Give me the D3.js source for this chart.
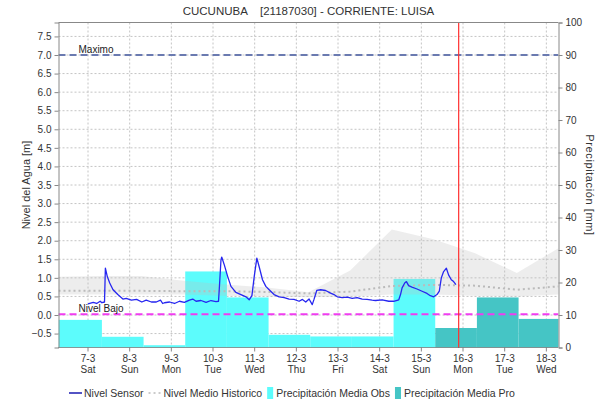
<!DOCTYPE html>
<html>
<head>
<meta charset="utf-8">
<script src="https://cdn.jsdelivr.net/npm/d3@7"></script>
<style>
  body { margin: 0; background: #fff; }
  text { font-family: "Liberation Sans", Arial, sans-serif; fill: #333; }
</style>
</head>
<body>
<div id="chart"></div>
<script>
// Chart data.
var titleText = "CUCUNUBA    [21187030] - CORRIENTE: LUISA";

var sensorTimes = [
  "2020-03-07 00:00", "2020-03-07 03:00", "2020-03-07 05:00", "2020-03-07 07:00", "2020-03-07 08:00",
  "2020-03-07 09:30", "2020-03-07 10:00", "2020-03-07 11:05", "2020-03-07 12:30", "2020-03-07 14:25",
  "2020-03-07 17:10", "2020-03-07 20:05", "2020-03-07 22:00", "2020-03-08 01:00", "2020-03-08 04:00",
  "2020-03-08 07:00", "2020-03-08 09:30", "2020-03-08 12:30", "2020-03-08 15:20", "2020-03-08 17:45",
  "2020-03-08 19:00", "2020-03-08 20:00", "2020-03-08 23:00", "2020-03-09 01:50", "2020-03-09 04:40",
  "2020-03-09 07:30", "2020-03-09 10:25", "2020-03-09 12:20", "2020-03-09 14:15", "2020-03-09 17:05",
  "2020-03-09 20:00", "2020-03-09 22:50", "2020-03-10 01:45", "2020-03-10 03:10", "2020-03-10 03:35",
  "2020-03-10 04:35", "2020-03-10 05:00", "2020-03-10 06:30", "2020-03-10 08:25", "2020-03-10 10:20",
  "2020-03-10 13:10", "2020-03-10 16:05", "2020-03-10 19:00", "2020-03-10 20:50", "2020-03-10 22:25",
  "2020-03-10 23:45", "2020-03-11 01:15", "2020-03-11 02:35", "2020-03-11 04:30", "2020-03-11 06:25",
  "2020-03-11 08:20", "2020-03-11 11:10", "2020-03-11 14:05", "2020-03-11 17:00", "2020-03-11 19:50",
  "2020-03-11 22:40", "2020-03-12 01:35", "2020-03-12 03:30", "2020-03-12 05:25", "2020-03-12 07:20",
  "2020-03-12 09:10", "2020-03-12 10:10", "2020-03-12 11:45", "2020-03-12 14:00", "2020-03-12 16:50",
  "2020-03-12 19:45", "2020-03-12 21:40", "2020-03-12 23:35", "2020-03-13 02:25", "2020-03-13 05:20",
  "2020-03-13 08:10", "2020-03-13 11:00", "2020-03-13 13:55", "2020-03-13 16:45", "2020-03-13 19:40",
  "2020-03-13 21:35", "2020-03-14 01:25", "2020-03-14 05:15", "2020-03-14 08:05", "2020-03-14 11:00",
  "2020-03-14 12:00", "2020-03-14 12:55", "2020-03-14 14:25", "2020-03-14 15:25", "2020-03-14 16:40",
  "2020-03-14 18:35", "2020-03-14 21:30", "2020-03-15 00:25", "2020-03-15 03:15", "2020-03-15 05:10",
  "2020-03-15 07:05", "2020-03-15 09:00", "2020-03-15 10:20", "2020-03-15 11:30", "2020-03-15 12:50",
  "2020-03-15 14:25", "2020-03-15 15:40", "2020-03-15 17:15", "2020-03-15 18:35", "2020-03-15 19:55"
];
var sensorLevel = [
  0.30, 0.34, 0.31, 0.37, 0.33,
  0.35, 1.26, 1.04, 0.86, 0.68,
  0.55, 0.43, 0.45, 0.40, 0.42,
  0.35, 0.40, 0.35, 0.35, 0.40,
  0.31, 0.33, 0.35, 0.31, 0.37,
  0.34, 0.40, 0.43, 0.37, 0.39,
  0.34, 0.39, 0.36, 0.37, 0.68,
  1.48, 1.56, 1.35, 1.04, 0.77,
  0.61, 0.55, 0.49, 0.41, 0.52,
  1.04, 1.53, 1.30, 0.95, 0.77,
  0.68, 0.55, 0.49, 0.47, 0.43,
  0.42, 0.37, 0.42, 0.35, 0.43,
  0.28, 0.42, 0.66, 0.68, 0.66,
  0.59, 0.55, 0.49, 0.47, 0.48,
  0.45, 0.47, 0.43, 0.42, 0.40,
  0.39, 0.41, 0.37, 0.37, 0.41,
  0.55, 0.73, 0.86, 0.90, 0.79,
  0.75, 0.70, 0.64, 0.58, 0.52,
  0.49, 0.55, 0.64, 1.00, 1.17,
  1.26, 1.08, 0.95, 0.90, 0.82
];

// Historical level: daily mean and its band
var histTimes = [
  "2020-03-06 07:00", "2020-03-07 07:00", "2020-03-08 07:00", "2020-03-09 07:00", "2020-03-10 07:00",
  "2020-03-11 07:00", "2020-03-12 07:00", "2020-03-13 07:00", "2020-03-14 07:00", "2020-03-15 07:00",
  "2020-03-16 07:00", "2020-03-17 07:00", "2020-03-18 07:00"
];
var histUpper = [1.03, 1.05, 1.05, 0.92, 0.82, 0.74, 0.61, 1.20, 2.30, 2.04, 1.66, 1.13, 1.80];
var histLower = [0.55, 0.55, 0.55, 0.55, 0.52, 0.50, 0.48, 0.50, 0.55, 0.55, 0.52, 0.50, 0.55];
var histMean  = [0.65, 0.65, 0.65, 0.64, 0.64, 0.62, 0.58, 0.63, 0.78, 0.81, 0.79, 0.68, 0.77];

// Daily precipitation (mm), each bar covers one day starting at 08:00
var obsStart = [
  "2020-03-06 08:00", "2020-03-07 08:00", "2020-03-08 08:00", "2020-03-09 08:00", "2020-03-10 08:00",
  "2020-03-11 08:00", "2020-03-12 08:00", "2020-03-13 08:00", "2020-03-14 08:00"
];
var obsMm = [8.5, 3.3, 0.7, 23.4, 15.4, 3.9, 3.4, 3.4, 21.1];
var proStart = ["2020-03-15 08:00", "2020-03-16 08:00", "2020-03-17 08:00"];
var proMm = [6.0, 15.4, 8.8];

var nivelMaximo = 7.0;
var nivelBajo = 0.02;
var nowTime = "2020-03-15 21:30";
var timeRange = ["2020-03-06 07:00", "2020-03-18 07:00"];

var leftTicks = d3.range(-0.5, 7.51, 0.5);
var rightTicks = d3.range(0, 101, 10);

// Dimensions
var width = 595, height = 401;
var m = {top: 22.5, left: 58.5, right: 36.5, bottom: 53.5};
var w = width - m.left - m.right;
var h = height - m.top - m.bottom;

var parse = d3.utcParse("%Y-%m-%d %H:%M");
var fmtDay = d3.utcFormat("%-d-%-m");
var fmtWeek = d3.utcFormat("%a");

var x = d3.scaleUtc().domain(timeRange.map(parse)).range([0, w]);
var yL = d3.scaleLinear().domain([-0.875, 7.875]).range([h, 0]);
var yR = d3.scaleLinear().domain([0, 100]).range([h, 0]);

var svg = d3.select("#chart").append("svg")
    .attr("width", width)
    .attr("height", height);

svg.append("defs").append("clipPath").attr("id", "clip")
  .append("rect").attr("width", w).attr("height", h);

var g = svg.append("g").attr("transform", "translate(" + m.left + "," + m.top + ")");

// Title
svg.append("text")
    .attr("x", m.left + w / 2)
    .attr("y", 15)
    .attr("text-anchor", "middle")
    .attr("xml:space", "preserve")
    .style("white-space", "pre")
    .style("font-size", "11.5px")
    .text(titleText);

// Grid
var dayTicks = d3.utcDay.range(d3.utcDay.ceil(x.domain()[0]), x.domain()[1]);
var grid = g.append("g").attr("stroke", "#c4c4c4").attr("stroke-dasharray", "2,2");
grid.selectAll(".gx").data(dayTicks).enter().append("line")
    .attr("x1", function(d) { return x(d); }).attr("x2", function(d) { return x(d); })
    .attr("y1", 0).attr("y2", h);
grid.selectAll(".gy").data(leftTicks).enter().append("line")
    .attr("x1", 0).attr("x2", w)
    .attr("y1", function(d) { return yL(d); }).attr("y2", function(d) { return yL(d); });

var plot = g.append("g").attr("clip-path", "url(#clip)");

// Precipitation bars
function bars(starts, vals, color) {
  var data = starts.map(function(s, i) {
    var t0 = parse(s);
    return {t0: t0, t1: d3.utcDay.offset(t0, 1), v: vals[i]};
  });
  plot.append("g").selectAll("rect").data(data).enter().append("rect")
      .attr("x", function(d, i) { return i === 0 && starts === obsStart ? 0 : x(d.t0); })
      .attr("width", function(d, i) { return x(d.t1) - (i === 0 && starts === obsStart ? 0 : x(d.t0)); })
      .attr("y", function(d) { return yR(d.v); })
      .attr("height", function(d) { return h - yR(d.v); })
      .attr("fill", color);
}
bars(obsStart, obsMm, "#5cfcfc");
bars(proStart, proMm, "#45c5c5");

// Historical band and mean
var hist = histTimes.map(function(t, i) {
  return {t: parse(t), lo: histLower[i], hi: histUpper[i], mean: histMean[i]};
});
plot.append("path").datum(hist)
    .attr("fill", "#bdbdbd")
    .attr("fill-opacity", 0.28)
    .attr("d", d3.area()
        .x(function(d) { return x(d.t); })
        .y0(function(d) { return yL(d.lo); })
        .y1(function(d) { return yL(d.hi); }));
plot.append("path").datum(hist)
    .attr("fill", "none")
    .attr("stroke", "#bbbbbb")
    .attr("stroke-width", 2)
    .attr("stroke-dasharray", "2,3")
    .attr("d", d3.line()
        .x(function(d) { return x(d.t); })
        .y(function(d) { return yL(d.mean); }));

// Sensor line
var sensor = sensorTimes.map(function(t, i) { return {t: parse(t), v: sensorLevel[i]}; });
plot.append("path").datum(sensor)
    .attr("fill", "none")
    .attr("stroke", "#2626f0")
    .attr("stroke-width", 1.3)
    .attr("stroke-linejoin", "round")
    .attr("d", d3.line()
        .x(function(d) { return x(d.t); })
        .y(function(d) { return yL(d.v); }));

// Threshold lines
function threshold(val, color, label) {
  plot.append("line")
      .attr("x1", 0).attr("x2", w)
      .attr("y1", yL(val)).attr("y2", yL(val))
      .attr("stroke", color)
      .attr("stroke-width", 2)
      .attr("stroke-dasharray", "7,4");
  g.append("text")
      .attr("x", 20)
      .attr("y", yL(val) - 2)
      .style("font-size", "10px")
      .style("fill", "#222")
      .text(label);
}
threshold(nivelMaximo, "#6a7ab0", "Maximo");
threshold(nivelBajo, "#f03cf0", "Nivel Bajo");

// Current time marker
g.append("line")
    .attr("x1", x(parse(nowTime))).attr("x2", x(parse(nowTime)))
    .attr("y1", 0).attr("y2", h)
    .attr("stroke", "#ff3030")
    .attr("stroke-width", 1.2);

// Frame and axes
g.append("line").attr("x1", 0).attr("x2", w).attr("y1", 0).attr("y2", 0).attr("stroke", "#888");
g.append("line").attr("x1", 0).attr("x2", w).attr("y1", h).attr("y2", h)
    .attr("stroke", "#333").attr("stroke-dasharray", "1,1");

var axL = g.append("g").call(d3.axisLeft(yL).tickValues(leftTicks).tickFormat(d3.format(".1f")).tickSize(4));
var axR = g.append("g").attr("transform", "translate(" + w + ",0)")
    .call(d3.axisRight(yR).tickValues(rightTicks).tickSize(4));
[axL, axR].forEach(function(a) {
  a.select(".domain").attr("stroke", "#888");
  a.selectAll(".tick line").attr("stroke", "#888");
  a.selectAll("text").style("font-size", "10px").style("fill", "#333");
});

var axB = g.append("g").attr("transform", "translate(0," + h + ")");
var tk = axB.selectAll("g").data(dayTicks).enter().append("g")
    .attr("transform", function(d) { return "translate(" + x(d) + ",0)"; });
tk.append("line").attr("y1", 0).attr("y2", 4).attr("stroke", "#888");
tk.append("text").attr("y", 14).attr("text-anchor", "middle")
    .style("font-size", "10px").text(function(d) { return fmtDay(d); });
tk.append("text").attr("y", 25).attr("text-anchor", "middle")
    .style("font-size", "10px").text(function(d) { return fmtWeek(d); });

// Axis titles
svg.append("text")
    .attr("transform", "translate(30," + (m.top + h / 2) + ") rotate(-90)")
    .attr("text-anchor", "middle")
    .style("font-size", "11px")
    .text("Nivel del Agua [m]");
svg.append("text")
    .attr("transform", "translate(586," + (m.top + h / 2) + ") rotate(90)")
    .attr("text-anchor", "middle")
    .style("font-size", "11px")
    .style("letter-spacing", "0.6px")
    .text("Precipitación [mm]");

// Legend
var legendItems = [
  {label: "Nivel Sensor", type: "line", color: "#1a1ab0"},
  {label: "Nivel Medio Historico", type: "dots", color: "#bbbbbb"},
  {label: "Precipitación Media Obs", type: "box", color: "#5cfcfc"},
  {label: "Precipitación Media Pro", type: "box", color: "#45c5c5"}
];
var legend = svg.append("g").attr("transform", "translate(69,393)");
var lx = 0;
legendItems.forEach(function(it) {
  var item = legend.append("g").attr("transform", "translate(" + lx + ",0)");
  var sw;
  if (it.type === "box") {
    item.append("rect").attr("x", 0).attr("y", -6).attr("width", 6).attr("height", 12).attr("fill", it.color);
    sw = 9;
  } else {
    item.append("line").attr("x1", 0).attr("x2", 13).attr("y1", 0).attr("y2", 0)
        .attr("stroke", it.color).attr("stroke-width", it.type === "line" ? 1.5 : 1.5)
        .attr("stroke-dasharray", it.type === "dots" ? "2,3" : null);
    sw = 15;
  }
  var t = item.append("text").attr("x", sw).attr("y", 4).style("font-size", "10.5px").text(it.label);
  lx += sw + t.node().getComputedTextLength() + 5;
});
</script>
</body>
</html>
